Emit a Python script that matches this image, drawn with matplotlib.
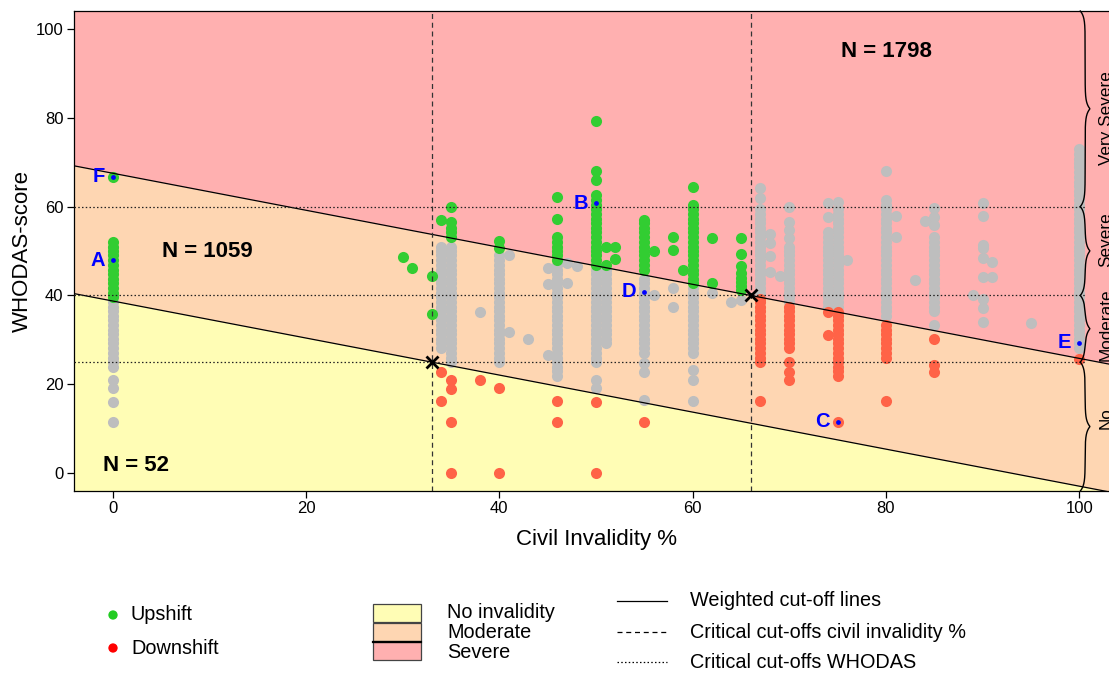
import numpy as np
import matplotlib
matplotlib.use("Agg")
import matplotlib.pyplot as plt
from matplotlib.patches import Rectangle

plt.rcParams['font.family'] = ['Liberation Sans', 'DejaVu Sans']

# ---------------------------------------------------------------------------
# Data: WHODAS score per civil-invalidity percentage, split by reclassification
# ---------------------------------------------------------------------------
grey_points = {
    0: [11.6, 16.1, 19.1, 20.9, 24.0, 25.0, 26.0, 27.1, 28.1, 29.2, 30.2, 31.3, 32.3,
        33.3, 34.4, 35.4, 36.5, 37.5, 38.5],
    34: [28.1, 29.2, 30.2, 31.3, 32.3, 33.3, 34.4, 35.4, 36.5, 37.5, 38.5, 39.6, 40.6,
         41.7, 42.7, 43.8, 44.8, 45.8, 46.9, 47.9, 49.0, 50.0, 51.0],
    35: [25.0, 26.0, 27.1, 28.1, 29.2, 30.2, 31.3, 32.3, 33.3, 34.4, 35.4, 36.5, 37.5,
         38.5, 39.6, 40.6, 41.7, 42.7, 43.8, 44.8, 45.8, 46.9, 47.9, 49.0, 50.0, 51.0],
    38: [36.2],
    40: [25.0, 26.0, 27.1, 28.1, 29.2, 30.2, 31.3, 32.3, 33.3, 34.4, 35.4, 36.5, 37.5,
         38.5, 39.6, 40.6, 41.7, 42.7, 43.8, 44.8, 45.8, 46.9, 47.9, 49.0],
    41: [49.0, 31.8],
    43: [30.3],
    45: [46.1, 42.5, 26.6],
    46: [21.9, 22.9, 24.0, 25.0, 26.0, 27.1, 28.1, 29.2, 30.2, 31.3, 32.3, 33.3, 34.4,
         35.4, 36.5, 37.5, 38.5, 39.6, 40.6, 41.7, 42.7, 43.8, 44.8, 45.8, 46.9],
    47: [47.2, 42.9],
    48: [46.7],
    50: [19.1, 21.0, 25.0, 26.0, 27.1, 28.1, 29.2, 30.2, 31.3, 32.3, 33.3, 34.4, 35.4,
         36.5, 37.5, 38.5, 39.6, 40.6, 41.7, 42.7, 43.8, 44.8, 45.8],
    51: [29.2, 30.2, 31.3, 32.3, 33.3, 34.4, 35.4, 36.5, 37.5, 38.5, 39.6, 40.6, 41.7,
         42.7, 43.8, 44.8, 45.8],
    55: [16.4, 22.8, 24.7, 27.1, 28.1, 29.2, 30.2, 31.3, 32.3, 33.3, 34.4, 35.4, 36.5,
         37.5, 38.5, 39.6, 40.6, 41.7, 42.7, 43.8],
    56: [40.2],
    58: [41.6, 37.5],
    60: [16.3, 21.0, 23.2, 27.1, 28.1, 29.2, 30.2, 31.3, 32.3, 33.3, 34.4, 35.4, 36.5,
         37.5, 38.5, 39.6, 40.6, 41.7],
    62: [40.5],
    64: [38.6],
    65: [39.0],
    67: [40.6, 41.7, 42.7, 43.8, 44.8, 45.8, 46.9, 47.9, 49.0, 50.0, 51.0, 52.1, 53.1,
         54.2, 55.2, 56.3, 57.3, 58.3, 59.4, 61.9, 64.1],
    68: [53.8, 51.7, 48.9, 45.3],
    69: [44.4],
    70: [38.5, 39.6, 40.6, 41.7, 42.7, 43.8, 44.8, 45.8, 46.9, 47.9, 49.0, 50.0, 51.0,
         53.0, 54.7, 56.6, 60.0],
    74: [37.5, 38.5, 39.6, 40.6, 41.7, 42.7, 43.8, 44.8, 45.8, 46.9, 47.9, 49.0, 50.0,
         51.0, 52.1, 53.1, 54.2, 57.6, 60.7],
    75: [37.5, 38.5, 39.6, 40.6, 41.7, 42.7, 43.8, 44.8, 45.8, 46.9, 47.9, 49.0, 50.0,
         51.0, 52.1, 53.1, 54.2, 55.2, 56.3, 57.3, 58.3, 59.4, 61.1],
    76: [48.0],
    80: [35.4, 36.5, 37.5, 38.5, 39.6, 40.6, 41.7, 42.7, 43.8, 44.8, 45.8, 46.9, 47.9,
         49.0, 50.0, 51.0, 52.1, 53.1, 54.2, 55.2, 56.3, 57.3, 58.3, 59.4, 60.4, 61.5,
         68.1],
    81: [57.9, 53.2],
    83: [43.5],
    84: [56.8],
    85: [33.3, 36.5, 37.5, 38.5, 39.6, 40.6, 41.7, 42.7, 43.8, 44.8, 45.8, 46.9, 47.9,
         49.0, 50.0, 51.0, 52.1, 53.1, 55.9, 57.7, 59.6],
    89: [40.0],
    90: [34.1, 37.1, 39.3, 44.2, 48.4, 50.6, 51.4, 57.9, 60.9],
    91: [47.5, 44.2],
    95: [33.9],
    100: [28.1, 29.2, 30.2, 31.3, 32.3, 33.3, 34.4, 35.4, 36.5, 37.5, 38.5, 39.6, 40.6,
          41.7, 42.7, 43.8, 44.8, 45.8, 46.9, 47.9, 49.0, 50.0, 51.0, 52.1, 53.1, 54.2,
          55.2, 56.3, 57.3, 58.3, 59.4, 60.4, 61.5, 62.5, 63.5, 64.6, 65.6, 66.7, 67.7,
          68.8, 69.8, 70.8, 71.9, 72.9],
}

upshift_points = {
    0: [39.6, 40.6, 41.7, 42.7, 43.8, 44.8, 45.8, 46.9, 47.9, 49.0, 50.0, 51.0, 52.1,
        66.7],
    30: [48.6],
    31: [46.2],
    33: [44.3, 35.8],
    34: [57.0],
    35: [59.8, 56.6, 55.1, 54.2, 53.2],
    40: [52.3, 50.6],
    46: [47.9, 49.0, 50.0, 51.0, 52.1, 53.1, 57.1, 62.2],
    50: [46.9, 47.9, 49.0, 50.0, 51.0, 52.1, 53.1, 54.2, 55.2, 56.3, 57.3, 58.3, 59.4,
         60.4, 61.5, 62.5, 66.0, 68.1, 79.3],
    51: [51.0, 46.8],
    52: [51.0, 48.1],
    55: [45.8, 46.9, 47.9, 49.0, 50.0, 51.0, 52.1, 53.1, 54.2, 55.2, 56.3, 56.9],
    56: [50.1],
    58: [53.2, 50.2],
    59: [45.7],
    60: [42.7, 43.8, 44.8, 45.8, 46.9, 47.9, 49.0, 50.0, 51.0, 52.1, 53.1, 54.2, 55.2,
         56.3, 57.3, 58.3, 59.4, 60.4, 64.5],
    62: [52.9, 42.8],
    65: [41.2, 42.2, 43.0, 44.0, 45.0, 46.7, 49.3, 52.9],
}

downshift_points = {
    34: [22.8, 16.3],
    35: [20.9, 18.9, 11.6, 0.1],
    38: [20.9],
    40: [19.1, 0.1],
    46: [16.3, 11.6],
    50: [16.1, 0.1],
    55: [11.6],
    67: [16.2, 25.0, 26.0, 27.1, 28.1, 29.2, 30.2, 31.3, 32.3, 33.3, 34.4, 35.4, 36.5,
         37.5, 38.5, 39.3],
    70: [20.9, 22.8, 25.1, 28.1, 29.2, 30.2, 31.3, 32.3, 33.3, 34.4, 35.4, 36.5, 37.5],
    74: [36.3, 31.1],
    75: [11.6, 21.9, 22.9, 24.0, 25.0, 26.0, 27.1, 28.1, 29.2, 30.2, 31.3, 32.3, 33.3,
         34.4, 35.4, 36.3],
    80: [16.2, 26.0, 27.1, 28.1, 29.2, 30.2, 31.3, 32.3, 33.3],
    85: [30.1, 24.3, 22.8],
    100: [25.6],
}

# Highlighted example cases
case_labels = ["F", "A", "B", "D", "C", "E"]
case_x = [0, 0, 50, 55, 75, 100]
case_y = [66.7, 47.9, 60.7, 40.8, 11.6, 29.4]

# Critical cut-offs
invalidity_cutoffs = [33, 66]
whodas_cutoffs = [25, 40, 60]
weighted_slope = -5 / 12

# Group sizes per region
group_n = ["N = 52", "N = 1059", "N = 1798"]
group_pos = [(2.4, 1.8), (9.8, 49.8), (80.0, 94.8)]

# Severity brackets along the right margin
bracket_limits = [(-4, 25), (25, 40), (40, 60), (60, 104)]
bracket_text = ["No", "Moderate", "Severe", "Very Severe"]
bracket_text_y = [12.5, 33.5, 52.5, 80.0]

# ---------------------------------------------------------------------------
W, H = 1109, 674
fig = plt.figure(figsize=(W / 100, H / 100), dpi=100)
ax = fig.add_axes([74 / W, 1 - 491 / H, (1118 - 74) / W, (491 - 11) / H])
ax.set_zorder(2)

xmin, xmax, ymin, ymax = -4, 104, -4, 104
ax.set_xlim(xmin, xmax)
ax.set_ylim(ymin, ymax)

pink = "#FFB0B0"
peach = "#FED6B2"
yellow = "#FFFDB5"
grey_c = "#BEBEBE"
green_c = "#32CD32"
red_c = "#FF6347"


def lower_line(x):
    return whodas_cutoffs[0] + weighted_slope * (x - invalidity_cutoffs[0])


def upper_line(x):
    return whodas_cutoffs[1] + weighted_slope * (x - invalidity_cutoffs[1])


xs = np.linspace(xmin, xmax, 200)
ax.fill_between(xs, ymin, lower_line(xs), color=yellow, lw=0, zorder=0)
ax.fill_between(xs, lower_line(xs), upper_line(xs), color=peach, lw=0, zorder=0)
ax.fill_between(xs, upper_line(xs), ymax, color=pink, lw=0, zorder=0)


def flatten(d):
    px, py = [], []
    for k, vals in d.items():
        px += [k] * len(vals)
        py += vals
    return px, py


msize = 64
gx, gy = flatten(grey_points)
ax.scatter(gx, gy, s=msize, color=grey_c, lw=0, zorder=3)
ux, uy = flatten(upshift_points)
ax.scatter(ux, uy, s=msize, color=green_c, lw=0, zorder=4)
dx, dy = flatten(downshift_points)
ax.scatter(dx, dy, s=msize, color=red_c, lw=0, zorder=4)

# Weighted cut-off lines
ax.plot(xs, lower_line(xs), color="black", lw=0.9, zorder=5)
ax.plot(xs, upper_line(xs), color="black", lw=0.9, zorder=5)

bracket_x = 100.6
for c in invalidity_cutoffs:
    ax.axvline(c, color="#333333", lw=0.9, ls=(0, (4, 3)), zorder=5)
for c in whodas_cutoffs:
    ax.plot([xmin, bracket_x], [c, c], color="#222222", lw=0.9, ls=(0, (1.2, 1.8)), zorder=5)

ax.plot(invalidity_cutoffs, whodas_cutoffs[:2], ls="none", marker="x",
        ms=8, mew=2, color="black", zorder=6)

# Example cases
ax.scatter(case_x, case_y, s=12, color="blue", lw=0, zorder=7)
for lab, x, y in zip(case_labels, case_x, case_y):
    ax.text(x - 0.8, y, lab, color="blue", fontsize=14.5, fontweight="bold",
            ha="right", va="center", zorder=7)

for txt, (x, y) in zip(group_n, group_pos):
    ax.text(x, y, txt, fontsize=16, fontweight="bold", ha="center", va="center", zorder=7)

# Curly brackets for WHODAS severity
amp, d = 0.5, 1.3
for (a, b), lab, ty in zip(bracket_limits, bracket_text, bracket_text_y):
    yy = np.linspace(a, b, 400)
    m = (a + b) / 2
    xx = (bracket_x + amp * np.exp(-np.abs(yy - m) / d)
          - amp * np.exp(-np.abs(yy - a) / d) - amp * np.exp(-np.abs(yy - b) / d))
    ax.plot(xx, yy, color="black", lw=1.0, zorder=6, clip_on=False)
    ax.text(bracket_x + 1.4, ty, lab, rotation=90, ha="left", va="center",
            fontsize=12.3, clip_on=False, zorder=7)

ax.set_xticks([0, 20, 40, 60, 80, 100])
ax.set_yticks([0, 20, 40, 60, 80, 100])
ax.tick_params(labelsize=12, length=5, width=0.9, direction="out", pad=2.5)
for s in ax.spines.values():
    s.set_linewidth(0.9)
ax.set_xlabel("Civil Invalidity %", fontsize=16, labelpad=9)
ax.set_ylabel("WHODAS-score", fontsize=16, labelpad=2)

# ---------------------------------------------------------------------------
# Legends along the bottom, laid out in figure pixels
lg = fig.add_axes([0, 0, 1, 1])
lg.set_zorder(1)
lg.set_xlim(0, W)
lg.set_ylim(H, 0)
lg.axis("off")
lg.patch.set_alpha(0)

fs = 14.3
lg.scatter([113, 113], [615, 648], s=45, color=["#22CC22", "red"], lw=0)
lg.text(131, 615, "Upshift", fontsize=fs, va="center")
lg.text(131, 648, "Downshift", fontsize=fs, va="center")

box_cols = [yellow, peach, pink]
box_text = ["No invalidity", "Moderate", "Severe"]
box_top = [604, 623, 642]
box_ty = [612, 633, 652]
for c, t, yt, ty in zip(box_cols, box_text, box_top, box_ty):
    lg.add_patch(Rectangle((373, yt), 48, 18, facecolor=c, edgecolor="#444444", lw=0.9))
    lg.text(447, ty, t, fontsize=fs, va="center")
lg.plot([373, 421], [641.5, 641.5], color="black", lw=1.6)

line_styles = ["-", (0, (4, 3)), (0, (1.2, 1.8))]
line_text = ["Weighted cut-off lines", "Critical cut-offs civil invalidity %",
             "Critical cut-offs WHODAS"]
line_y = [601, 632, 662]
for st, t, y in zip(line_styles, line_text, line_y):
    lg.plot([617, 667], [y, y], color="black", lw=0.9, ls=st)
    lg.text(690, y, t, fontsize=fs, va="center")

fig.savefig("out.png", dpi=100)
